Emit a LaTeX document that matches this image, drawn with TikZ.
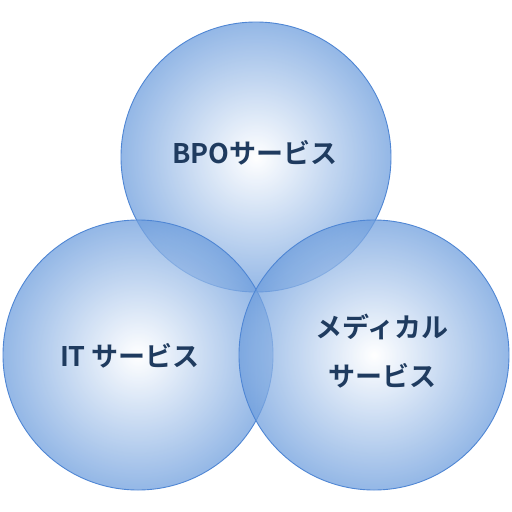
\documentclass[tikz,border=0pt]{standalone}
\usepackage{fontspec}
\newfontfamily\jpfont{Noto Sans CJK JP}[BoldFont={* Bold}]
\begin{document}
\begin{tikzpicture}[x=1pt,y=-1pt,
  venn/.style={circle, minimum size=270pt, inner sep=0pt, draw=vborder, line width=0.9pt,
    shading=radial, inner color=white, outer color=vouter, fill opacity=0.74},
  lbl/.style={text=vtext, font=\jpfont\bfseries\fontsize{27}{49}\selectfont, align=center}]
\definecolor{vborder}{HTML}{4F86D4}
\definecolor{vouter}{HTML}{6E9EDD}
\definecolor{vtext}{HTML}{1F3B5F}
\useasboundingbox (0,0) rectangle (512,512);
\node[venn] (top) at (256,157) {};
\node[venn] (left) at (138,355) {};
\node[venn] (right) at (374,355) {};
\node[lbl] (tl) at (255,153) {BPOサービス};
\node[lbl] (ll) at (130,356) {IT サービス};
\node[lbl] (rl) at (382,351) {メディカル\\サービス};
\end{tikzpicture}
\end{document}
